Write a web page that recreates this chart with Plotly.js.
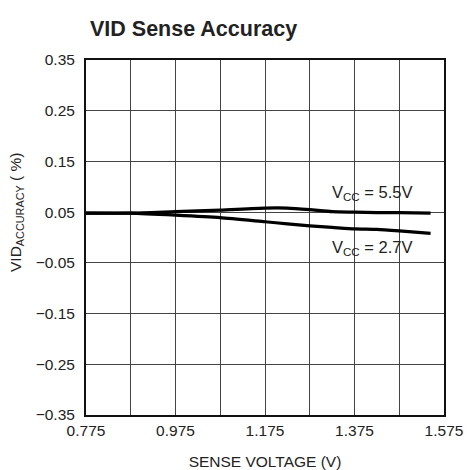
<!DOCTYPE html>
<html>
<head>
<meta charset="utf-8">
<script src="https://cdn.plot.ly/plotly-3.0.1.min.js"></script>
<style>html,body{margin:0;padding:0;background:#fff;}#chart{width:467px;height:470px;}</style>
</head>
<body>
<div id="chart"></div>
<script>
// Sense voltage (V)
const senseV = [0.775, 0.875, 0.975, 1.075, 1.175, 1.225, 1.275, 1.325, 1.375, 1.425, 1.475, 1.545];
// VID accuracy (%) at VCC = 5.5V
const acc55 = [0.048, 0.048, 0.051, 0.054, 0.058, 0.058, 0.055, 0.051, 0.050, 0.049, 0.049, 0.048];
// VID accuracy (%) at VCC = 2.7V
const acc27 = [0.048, 0.048, 0.044, 0.039, 0.031, 0.027, 0.023, 0.020, 0.017, 0.016, 0.013, 0.008];
const seriesNames = ["V<sub>CC</sub> = 5.5V", "V<sub>CC</sub> = 2.7V"];
const labelX = [1.414, 1.414];
const labelY = [0.088, -0.020];

const FONT = "'Liberation Sans Narrow', 'Arial Narrow', 'Liberation Sans', sans-serif";

const traces = [
  {x: senseV, y: acc55, mode: 'lines', name: seriesNames[0], line: {color: '#000', width: 3.2, shape: 'spline', smoothing: 0.6}},
  {x: senseV, y: acc27, mode: 'lines', name: seriesNames[1], line: {color: '#000', width: 3.2, shape: 'spline', smoothing: 0.6}}
];

const layout = {
  width: 467, height: 470,
  margin: {l: 86, r: 23, t: 60, b: 55},
  paper_bgcolor: '#fff', plot_bgcolor: '#fff',
  showlegend: false,
  font: {family: FONT, size: 15.5, color: '#222'},
  title: {text: '<b>VID Sense Accuracy</b>', font: {family: FONT, size: 21.5, color: '#222'}, x: 90/467, xanchor: 'left', y: 1 - 28/470, yanchor: 'middle'},
  xaxis: {
    range: [0.775, 1.575], tick0: 0.775, dtick: 0.2, tickformat: '.3f',
    showgrid: true, gridcolor: '#444', gridwidth: 1,
    minor: {dtick: 0.1, tick0: 0.775, showgrid: true, gridcolor: '#444', gridwidth: 1},
    showline: true, linecolor: '#111', linewidth: 2, mirror: true,
    zeroline: false, ticks: '',
    tickfont: {family: FONT, size: 15.5, color: '#222'},
    title: {text: 'SENSE VOLTAGE (V)', font: {family: FONT, size: 15.5, color: '#222'}, standoff: 19}
  },
  yaxis: {
    range: [-0.35, 0.35], tick0: 0.05, dtick: 0.1, tickformat: '.2f',
    showgrid: true, gridcolor: '#444', gridwidth: 1,
    showline: true, linecolor: '#111', linewidth: 2, mirror: true,
    zeroline: false, ticks: '', ticklabelstandoff: 6,
    tickfont: {family: FONT, size: 15.5, color: '#222'}
  },
  annotations: seriesNames.map((t, i) => ({
    x: labelX[i], y: labelY[i], xref: 'x', yref: 'y', text: t, showarrow: false,
    font: {family: FONT, size: 16.5, color: '#222'}, xanchor: 'center', yanchor: 'middle'
  })).concat([{
    x: (16 - 86) / 358, y: (415 - 213) / 355, xref: 'paper', yref: 'paper', xanchor: 'center', yanchor: 'middle',
    text: 'VID<sub>ACCURACY</sub> ( %)', textangle: -90, showarrow: false,
    font: {family: FONT, size: 15.5, color: '#222'}
  }])
};

Plotly.newPlot('chart', traces, layout, {displayModeBar: false, staticPlot: true});
</script>
</body>
</html>
